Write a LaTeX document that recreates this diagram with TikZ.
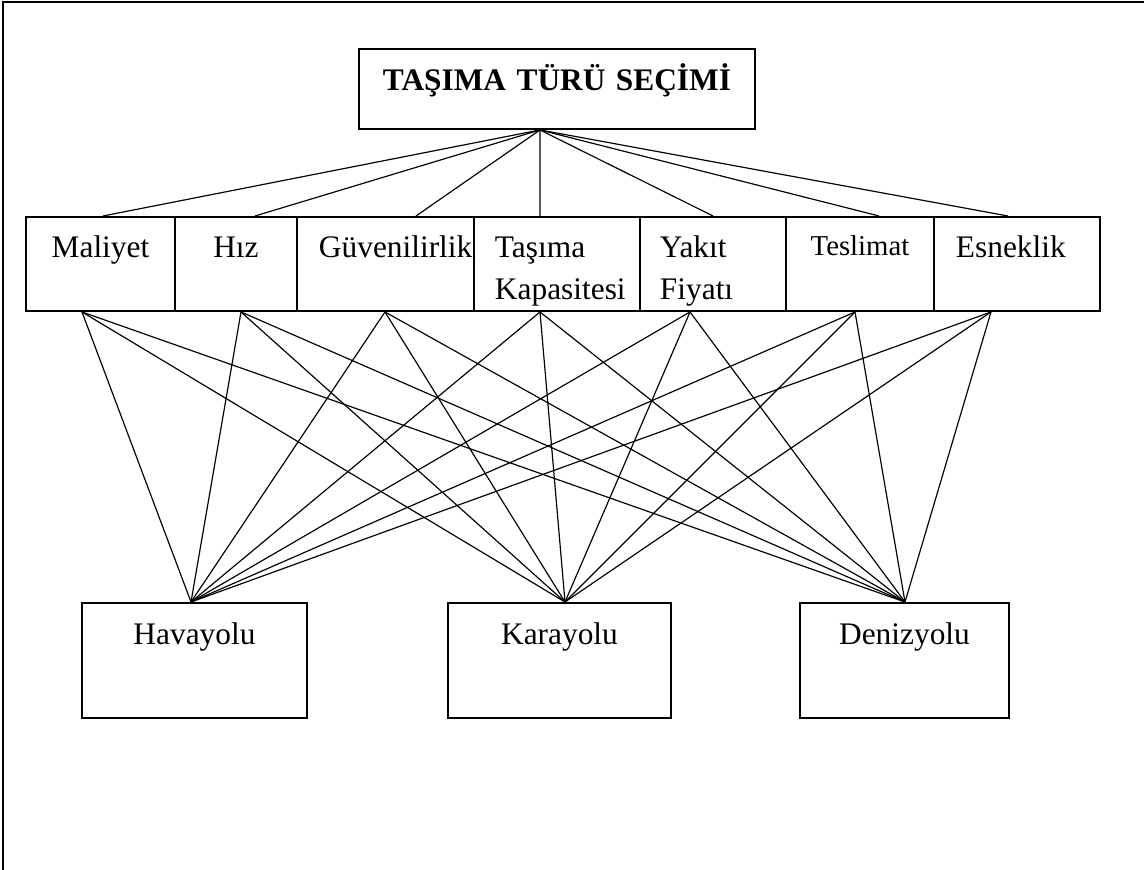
\documentclass[tikz,border=0pt]{standalone}
\usepackage{fontspec}
\setmainfont{Liberation Serif}
\def\pxu{0.01345cm}
\tikzset{
  pageframe/.style={line width=0.75pt},
  topbox/.style={draw,line width=0.75pt,anchor=north west,inner sep=0pt,align=center,text height=42*\pxu,text depth=38*\pxu,font=\fontsize{12}{15.7}\selectfont\bfseries},
  critbox/.style={draw,line width=0.75pt,anchor=north west,inner ysep=0pt,inner xsep=#1*\pxu,text height=41*\pxu,text depth=53*\pxu,font=\fontsize{12}{15.7}\selectfont},
  critbox/.default=0,
  altbox/.style={draw,line width=0.75pt,anchor=north west,inner sep=0pt,align=center,text height=42*\pxu,text depth=73*\pxu,font=\fontsize{12}{15.7}\selectfont},
  link/.style={line width=0.45pt},
}
\begin{document}
\begin{tikzpicture}[x=\pxu,y=-\pxu]
  \useasboundingbox (0,0) rectangle (1144,870);
  \draw[pageframe] (3,870) -- (3,2) -- (1144,2);
  \node[topbox,text width=396*\pxu] (title) at (358,48) {TAŞIMA TÜRÜ SEÇİMİ};
  \node[critbox,text width=149*\pxu,align=center] (mal) at (25,216) {Maliyet};
  \node[critbox,text width=122*\pxu,align=center] (hiz) at (174,216) {Hız};
  \node[critbox=22,text width=133*\pxu,align=left] (guv) at (296,216) {Güvenilirlik};
  \node[critbox=21,text width=124*\pxu,align=left] (kap) at (473,216) {Taşıma\\Kapasitesi};
  \node[critbox=20,text width=106*\pxu,align=left] (yak) at (639,216) {Yakıt\\Fiyatı};
  \node[critbox,text width=148*\pxu,align=center,text height=39*\pxu,text depth=55*\pxu,font=\fontsize{11}{14}\selectfont] (tes) at (785,216) {Teslimat};
  \node[critbox=22,text width=122*\pxu,align=left] (esn) at (933,216) {Esneklik};
  \node[altbox,text width=225*\pxu] (hava) at (81,602) {Havayolu};
  \node[altbox,text width=223*\pxu] (kara) at (447,602) {Karayolu};
  \node[altbox,text width=209*\pxu] (deniz) at (799,602) {Denizyolu};
  \coordinate (apex) at ([xshift=-17*\pxu]title.south);
  \foreach \n/\a in {mal/78,hiz/81,guv/120,kap/67,yak/74,tes/94,esn/75}
    \draw[link] (apex) -- ([xshift=\a*\pxu]\n.north west);
  \foreach \n/\b in {mal/57,hiz/67,guv/89,kap/67,yak/51,tes/70,esn/58}
    \foreach \m/\c in {hava/110,kara/118,deniz/106}
      \draw[link] ([xshift=\b*\pxu]\n.south west) -- ([xshift=\c*\pxu]\m.north west);
\end{tikzpicture}
\end{document}
